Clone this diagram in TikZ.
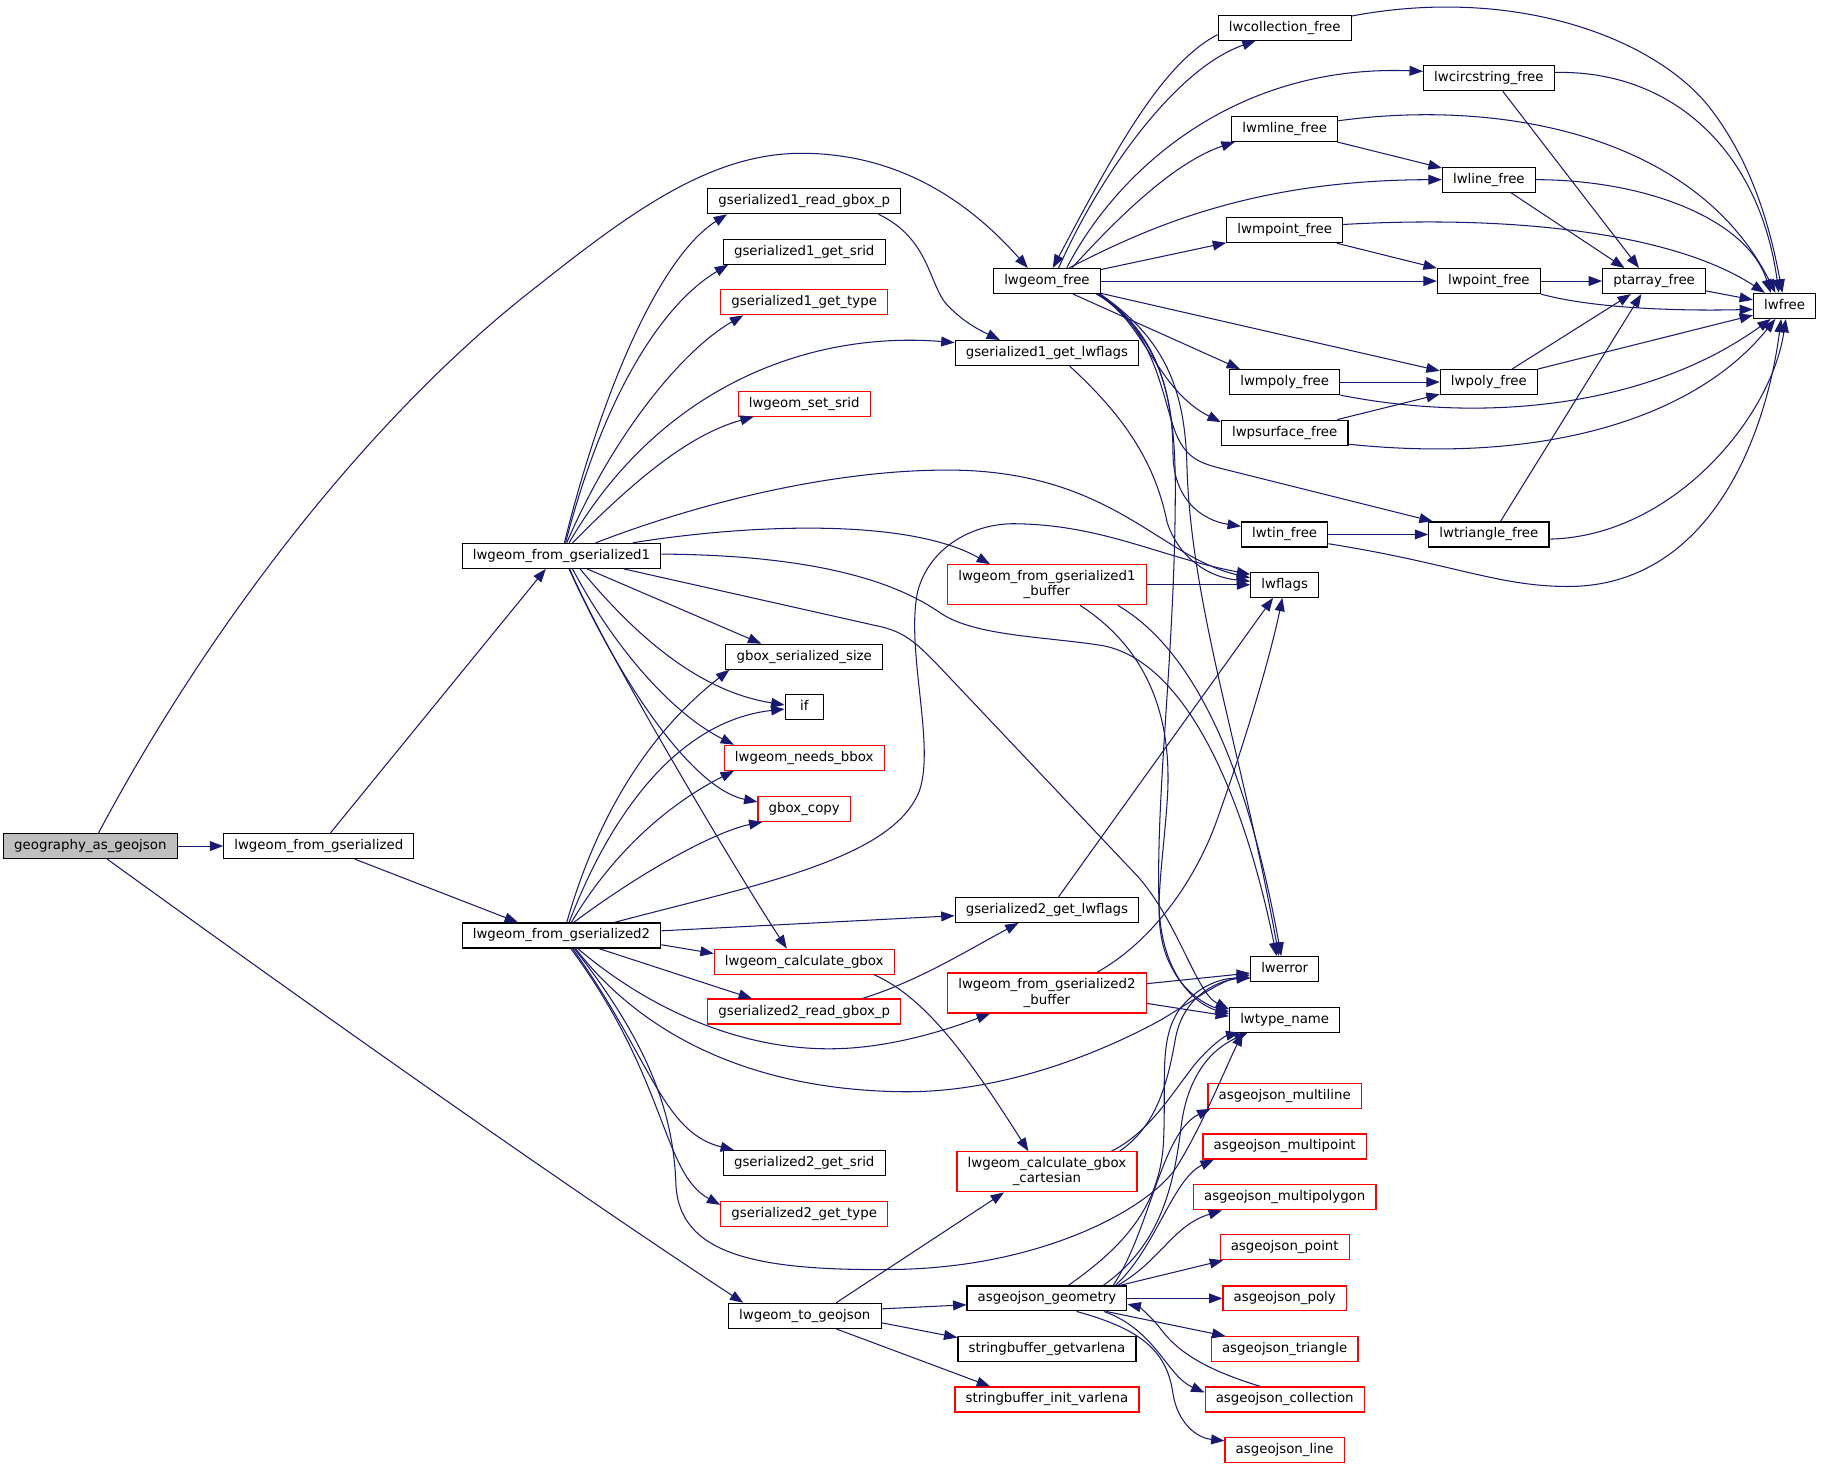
\documentclass[tikz,border=0pt]{standalone}
\usepackage{fontspec}
\setmainfont{DejaVu Sans}
\usetikzlibrary{arrows.meta}
\definecolor{edgec}{HTML}{191970}
\definecolor{nodegray}{HTML}{BFBFBF}
\newcommand{\dxfont}{\fontsize{11.48pt}{13.2pt}\selectfont}
\begin{document}
\begin{tikzpicture}[x=1pt,y=-1pt,
 nb/.style={draw=black, line width=1pt, rectangle, inner xsep=9.2pt, inner ysep=0pt, minimum height=21.5pt, text height=8.6pt, text depth=2.6pt, font=\dxfont},
 nr/.style={nb, draw=red},
 n2/.style={draw=red, line width=1pt, rectangle, inner xsep=9.2pt, inner ysep=0pt, minimum height=34.5pt, align=center, font=\dxfont},
 e/.style={draw=edgec, line width=0.9pt, -{Triangle[length=11.5pt,width=8.5pt]}}]
\path[fill=white] (0,0) rectangle (1568,1265);
\useasboundingbox (0,0) rectangle (1568,1265);
% column 1-3
\node[nb, fill=nodegray] (ga) at (77.8,728.5) {geography\_as\_geojson};
\node[nb] (lfg) at (274.5,728.5) {lwgeom\_from\_gserialized};
\node[nb] (g1) at (483.5,478.6) {lwgeom\_from\_gserialized1};
\node[nb] (g2) at (483.5,805.5) {lwgeom\_from\_gserialized2};
% column 4
\node[nb] (rb1) at (692.5,173.3) {gserialized1\_read\_gbox\_p};
\node[nb] (gs1srid) at (692.5,216.7) {gserialized1\_get\_srid};
\node[nr] (gs1type) at (692.5,260.3) {gserialized1\_get\_type};
\node[nr] (setsrid) at (692.5,347.6) {lwgeom\_set\_srid};
\node[nb] (gss) at (692.5,565.5) {gbox\_serialized\_size};
\node[nb, minimum width=33pt] (if) at (692.5,609) {if};
\node[nr] (nbbox) at (692.5,652.5) {lwgeom\_needs\_bbox};
\node[nr] (gcopy) at (692.5,696.5) {gbox\_copy};
\node[nr] (cgbox) at (692.5,828) {lwgeom\_calculate\_gbox};
\node[nr] (rb2) at (692.5,871) {gserialized2\_read\_gbox\_p};
\node[nb] (gs2srid) at (692.5,1001.5) {gserialized2\_get\_srid};
\node[nr] (gs2type) at (692.5,1045.5) {gserialized2\_get\_type};
\node[nb] (togj) at (693,1133) {lwgeom\_to\_geojson};
% column 5
\node[nb] (free) at (901.5,242) {lwgeom\_free};
\node[nb] (lf1) at (901.5,304) {gserialized1\_get\_lwflags};
\node[n2] (buf1) at (901.5,503.5) {lwgeom\_from\_gserialized1\\\_buffer};
\node[nb] (lf2) at (901.5,783.5) {gserialized2\_get\_lwflags};
\node[n2] (buf2) at (901.5,855) {lwgeom\_from\_gserialized2\\\_buffer};
\node[n2] (cart) at (901.5,1009) {lwgeom\_calculate\_gbox\\\_cartesian};
\node[nb] (geom) at (901.5,1118) {asgeojson\_geometry};
\node[nb] (sbget) at (901.5,1161.7) {stringbuffer\_getvarlena};
\node[nr] (sbinit) at (901.5,1205) {stringbuffer\_init\_varlena};
% column 6
\node[nb] (lwcoll) at (1106.2,23.8) {lwcollection\_free};
\node[nb] (lwmline) at (1106.2,111) {lwmline\_free};
\node[nb] (lwmpoint) at (1106.2,198.3) {lwmpoint\_free};
\node[nb] (lwmpoly) at (1106.2,329) {lwmpoly\_free};
\node[nb] (lwpsurface) at (1106.2,372.5) {lwpsurface\_free};
\node[nb] (lwtin) at (1106.2,460.2) {lwtin\_free};
\node[nb] (lwflags) at (1106.2,503.5) {lwflags};
\node[nb] (lwerror) at (1106.2,834.4) {lwerror};
\node[nb] (lwtype) at (1106.2,878) {lwtype\_name};
\node[nr] (multiline) at (1106.2,943.5) {asgeojson\_multiline};
\node[nr] (multipoint) at (1106.2,987.2) {asgeojson\_multipoint};
\node[nr] (multipolygon) at (1106.2,1031) {asgeojson\_multipolygon};
\node[nr] (point) at (1106.2,1074) {asgeojson\_point};
\node[nr] (poly) at (1106.2,1118) {asgeojson\_poly};
\node[nr] (triangle) at (1106.2,1161.7) {asgeojson\_triangle};
\node[nr] (collection) at (1106.2,1205) {asgeojson\_collection};
\node[nr] (line) at (1106.2,1248.6) {asgeojson\_line};
% column 7-9
\node[nb] (lwcirc) at (1282,67.4) {lwcircstring\_free};
\node[nb] (lwline) at (1282,154.7) {lwline\_free};
\node[nb] (lwpoint) at (1282,242) {lwpoint\_free};
\node[nb] (lwpoly) at (1282,329) {lwpoly\_free};
\node[nb] (lwtriangle) at (1282,460.2) {lwtriangle\_free};
\node[nb] (ptarray) at (1424.3,242) {ptarray\_free};
\node[nb] (lwfree) at (1536.7,263.4) {lwfree};

% ---- edges from the root
\draw[e] (ga) -- (lfg);
\draw[e] ([xshift=7pt]ga.north) .. controls (190,520) and (330,350) .. (458,250) .. controls (540,185) and (610,132) .. (690,132) .. controls (780,132) and (840,180) .. ([xshift=-16.5pt]free.north);
\draw[e] ([xshift=14.5pt]ga.south) .. controls (300,890) and (500,1030) .. ([xshift=-53pt]togj.north);
\draw[e] ([xshift=10pt]lfg.north) -- ([xshift=-13.5pt]g1.south);
\draw[e] ([xshift=31pt]lfg.south) -- ([xshift=-37.5pt]g2.north);

% ---- lwgeom_from_gserialized1
\draw[e] ([xshift=2.5pt]g1.north) .. controls (520,330) and (570,220) .. ([xshift=-66.5pt]rb1.south);
\draw[e] ([xshift=3.5pt]g1.north) .. controls (520,340) and (570,262) .. ([xshift=-65.5pt]gs1srid.south);
\draw[e] ([xshift=4.5pt]g1.north) .. controls (530,370) and (590,300) .. ([xshift=-52.5pt]gs1type.south);
\draw[e] ([xshift=6.5pt]g1.north) .. controls (570,330) and (700,285) .. ([yshift=9pt]lf1.west);
\draw[e] ([xshift=9.5pt]g1.north) .. controls (540,420) and (590,375) .. ([xshift=-43.5pt]setsrid.south);
\draw[e] ([xshift=29.5pt]g1.north) .. controls (610,430) and (730,402) .. (830,405) .. controls (960,410) and (1000,480) .. ([yshift=6pt]lwflags.west);
\draw[e] ([xshift=61.5pt]g1.north) .. controls (640,452) and (780,445) .. ([xshift=-49pt]buf1.north);
\draw[e] ([yshift=1.5pt]g1.east) .. controls (700,478) and (770,500) .. (810,528) .. controls (840,548) and (900,548) .. (950,556) .. controls (1020,570) and (1070,680) .. ([xshift=-7pt]lwerror.north);
\draw[e] ([xshift=53.5pt]g1.south) -- (760,540) .. controls (780,545) and (790,555) .. (805,570) -- (980,755) .. controls (1015,795) and (1030,855) .. ([yshift=9pt]lwtype.west);
\draw[e] ([xshift=22pt]g1.south) -- ([xshift=-37pt]gss.north);
\draw[e] ([xshift=16pt]g1.south) .. controls (545,545) and (600,595) .. ([yshift=2pt]if.west);
\draw[e] ([xshift=9.5pt]g1.south) .. controls (530,560) and (580,615) .. ([xshift=-60.5pt]nbbox.north);
\draw[e] ([xshift=6.5pt]g1.south) .. controls (540,600) and (600,680) .. ([yshift=6pt]gcopy.west);
\draw[e] ([xshift=7pt]g1.south) .. controls (520,560) and (640,760) .. ([xshift=-15pt]cgbox.north);

% ---- lwgeom_from_gserialized2
\draw[e] ([xshift=4.5pt]g2.north) .. controls (515,700) and (560,630) .. ([xshift=-64.5pt]gss.south);
\draw[e] ([xshift=6.5pt]g2.north) .. controls (530,690) and (590,620) .. ([yshift=-1.5pt]if.west);
\draw[e] ([xshift=8.5pt]g2.north) .. controls (530,730) and (580,690) .. ([xshift=-60.5pt]nbbox.south);
\draw[e] ([xshift=10.5pt]g2.north) .. controls (560,745) and (620,715) .. ([xshift=-36pt]gcopy.south);
\draw[e] ([xshift=45.5pt]g2.north) .. controls (650,762) and (770,740) .. (792,680) .. controls (805,640) and (780,560) .. (790,510) .. controls (800,470) and (840,450) .. (875,451) .. controls (950,452) and (1000,480) .. ([yshift=9pt]lwflags.west);
\draw[e] ([yshift=4pt]g2.east) -- ([yshift=-5pt]lf2.west);
\draw[e] ([yshift=-8pt]g2.east) -- ([yshift=7pt]cgbox.west);
\draw[e] ([xshift=32pt]g2.south) -- ([xshift=-45pt]rb2.north);
\draw[e] ([xshift=14pt]g2.south) .. controls (560,870) and (640,905) .. (720,903) .. controls (770,902) and (820,885) .. ([xshift=-49pt]buf2.south);
\draw[e] ([xshift=12pt]g2.south) .. controls (560,900) and (660,938) .. (774,940) .. controls (870,942) and (960,900) .. (1000,878) .. controls (1030,860) and (1050,845) .. ([yshift=-5pt]lwerror.west);
\draw[e] ([xshift=11pt]g2.south) .. controls (560,900) and (580,960) .. (582,1020) .. controls (585,1080) and (650,1095) .. (775,1093) .. controls (900,1090) and (990,1040) .. (1013,1005) .. controls (1035,970) and (1055,920) .. ([xshift=-36pt]lwtype.south);
\draw[e] ([xshift=9.5pt]g2.south) .. controls (560,910) and (570,975) .. ([xshift=-60.5pt]gs2srid.north);
\draw[e] ([xshift=8pt]g2.south) .. controls (575,930) and (570,1010) .. ([yshift=8pt]gs2type.west);

% ---- middle column helpers
\draw[e] ([xshift=64pt]rb1.south) .. controls (800,205) and (800,245) .. (815,262) .. controls (830,278) and (845,285) .. ([xshift=-40.5pt]lf1.north);
\draw[e] ([xshift=19.5pt]lf1.south) .. controls (970,360) and (995,400) .. (1005,450) .. controls (1015,480) and (1040,497) .. ([yshift=3pt]lwflags.west);
\draw[e] ([xshift=10pt]lf2.north) -- ([xshift=-10pt]lwflags.south);
\draw[e] ([xshift=50pt]rb2.north) .. controls (790,845) and (830,820) .. ([xshift=-24.5pt]lf2.south);
\draw[e] (buf1.east) -- (lwflags.west);
\draw[e] ([xshift=61pt]buf1.south) .. controls (1020,555) and (1070,640) .. ([xshift=-3pt]lwerror.north);
\draw[e] ([xshift=28.5pt]buf1.south) .. controls (990,560) and (1010,620) .. (1005,690) .. controls (1000,760) and (990,800) .. (1010,835) .. controls (1020,855) and (1040,866) .. ([yshift=7pt]lwtype.west);
\draw[e] ([xshift=43pt]buf2.north) .. controls (990,812) and (1030,760) .. (1050,700) .. controls (1075,630) and (1095,560) .. ([xshift=-2pt]lwflags.south);
\draw[e] ([yshift=8pt]buf2.east) -- ([yshift=-3.5pt]lwerror.west);
\draw[e] ([yshift=-9pt]buf2.east) -- ([yshift=3pt]lwtype.west);
\draw[e] ([xshift=60pt]cgbox.south) .. controls (800,860) and (840,920) .. ([xshift=-16pt]cart.north);
\draw[e] ([xshift=27pt]togj.north) -- ([xshift=-37pt]cart.south);
\draw[e] ([yshift=6pt]togj.east) -- ([yshift=-5.5pt]geom.west);
\draw[e] ([yshift=-6pt]togj.east) -- ([yshift=10pt]sbget.west);
\draw[e] ([xshift=27pt]togj.south) -- ([xshift=-49pt]sbinit.north);
\draw[e] ([xshift=62.5pt]cart.north) .. controls (995,970) and (1005,935) .. (1012,895) .. controls (1018,860) and (1045,845) .. ([yshift=-7pt]lwerror.west);
\draw[e] ([xshift=55.5pt]cart.north) .. controls (990,975) and (1010,940) .. (1030,915) .. controls (1045,898) and (1055,892) .. ([xshift=-39pt]lwtype.south);

% ---- asgeojson_geometry
\draw[e] ([xshift=57pt]geom.north) .. controls (990,1060) and (1000,975) .. ([xshift=-64pt]multiline.south);
\draw[e] ([xshift=59pt]geom.north) .. controls (995,1075) and (1010,1015) .. ([xshift=-61pt]multipoint.south);
\draw[e] ([xshift=61pt]geom.north) .. controls (1000,1085) and (1010,1055) .. ([xshift=-54pt]multipolygon.south);
\draw[e] ([xshift=63pt]geom.north) -- ([xshift=-53pt]point.south);
\draw[e] (geom.east) -- (poly.west);
\draw[e] ([xshift=51pt]geom.south) -- ([xshift=-51pt]triangle.north);
\draw[e] ([xshift=49pt]geom.south) .. controls (995,1145) and (1005,1185) .. ([yshift=6pt]collection.west);
\draw[e] ([xshift=-21pt]collection.north) .. controls (1040,1180) and (1015,1165) .. (1000,1145) .. controls (990,1132) and (980,1125) .. ([yshift=-5pt]geom.east);
\draw[e] ([xshift=25.5pt]geom.south) .. controls (985,1145) and (1005,1165) .. (1010,1200) .. controls (1014,1225) and (1030,1238) .. ([yshift=8pt]line.west);
\draw[e] ([xshift=18.5pt]geom.north) .. controls (965,1075) and (1000,1040) .. (1002,980) .. controls (1004,930) and (998,895) .. (1015,870) .. controls (1030,850) and (1050,842) .. ([yshift=-8pt]lwerror.west);
\draw[e] ([xshift=48.5pt]geom.north) .. controls (995,1075) and (1010,1030) .. (1017,970) .. controls (1022,930) and (1040,905) .. ([xshift=-32pt]lwtype.south);

% ---- lwgeom_free
\draw[e] ([xshift=10pt]free.north) .. controls (945,155) and (1010,60) .. ([xshift=-25pt]lwcoll.south);
\draw[e] ([yshift=-6pt]lwcoll.west) .. controls (1000,55) and (960,130) .. ([xshift=5pt]free.north);
\draw[e] ([xshift=17pt]free.north) .. controls (960,150) and (1060,55) .. ([yshift=6pt]lwcirc.west);
\draw[e] ([xshift=21.5pt]free.north) .. controls (960,190) and (1010,140) .. ([xshift=-43pt]lwmline.south);
\draw[e] ([xshift=19pt]free.north) .. controls (990,195) and (1080,155) .. (lwline.west);
\draw[e] (free) -- (lwmpoint);
\draw[e] (free) -- (lwpoint);
\draw[e] (free) -- (lwpoly);
\draw[e] ([xshift=22.5pt]free.south) -- ([xshift=-38.5pt]lwmpoly.north);
\draw[e] ([xshift=42.5pt]free.south) .. controls (985,275) and (995,335) .. ([yshift=9pt]lwpsurface.west);
\draw[e] ([xshift=44pt]free.south) .. controls (990,280) and (1010,330) .. (1010,390) .. controls (1010,430) and (1035,448) .. ([yshift=7pt]lwtin.west);
\draw[e] ([xshift=45pt]free.south) .. controls (995,285) and (1000,340) .. (1012,372) .. controls (1020,392) and (1030,398) .. (1050,403) -- ([xshift=4pt]lwtriangle.north west);
\draw[e] ([xshift=46pt]free.south) .. controls (1000,290) and (1020,330) .. (1022,400) .. controls (1025,520) and (1070,650) .. ([xshift=-5pt]lwerror.north);
\draw[e] ([xshift=44.5pt]free.south) .. controls (995,290) and (1012,330) .. (1012,420) .. controls (1012,560) and (995,680) .. (998,780) .. controls (1000,840) and (1030,865) .. ([yshift=5pt]lwtype.west);

% ---- the freeing functions
\draw[e] ([yshift=10pt]lwcoll.east) .. controls (1300,-12) and (1420,30) .. (1470,90) .. controls (1510,140) and (1525,200) .. ([xshift=-2pt]lwfree.north);
\draw[e] ([yshift=5pt]lwcirc.east) .. controls (1440,60) and (1515,130) .. ([xshift=-5pt]lwfree.north);
\draw[e] ([xshift=12pt]lwcirc.south) -- ([xshift=-13pt]ptarray.north);
\draw[e] (lwmline) -- (lwline);
\draw[e] ([yshift=7pt]lwmline.east) .. controls (1290,85) and (1460,115) .. ([xshift=-8pt]lwfree.north);
\draw[e] ([xshift=19pt]lwline.south) -- ([xshift=-25.5pt]ptarray.north);
\draw[e] (lwline.east) .. controls (1420,155) and (1505,190) .. ([xshift=-12pt]lwfree.north);
\draw[e] (lwmpoint) -- (lwpoint);
\draw[e] ([yshift=5pt]lwmpoint.east) .. controls (1300,185) and (1440,200) .. ([xshift=-17pt]lwfree.north);
\draw[e] (lwpoint) -- (ptarray);
\draw[e] (lwpoint.south east) .. controls (1370,265) and (1440,268) .. ([yshift=-3pt]lwfree.west);
\draw[e] (ptarray) -- (lwfree);
\draw[e] (lwmpoly) -- (lwpoly);
\draw[e] (lwmpoly.south east) .. controls (1280,365) and (1420,350) .. ([xshift=-12pt]lwfree.south);
\draw[e] ([xshift=20pt]lwpoly.north) -- ([xshift=-20pt]ptarray.south);
\draw[e] (lwpoly.north east) -- ([yshift=-8pt]lwfree.west);
\draw[e] (lwpsurface) -- (lwpoly);
\draw[e] ([yshift=-10pt]lwpsurface.east) .. controls (1330,400) and (1460,360) .. ([xshift=-8pt]lwfree.south);
\draw[e] (lwtin) -- (lwtriangle);
\draw[e] ([yshift=-8pt]lwtin.east) .. controls (1250,485) and (1290,505) .. (1350,505) .. controls (1470,505) and (1520,380) .. ([xshift=-3pt]lwfree.south);
\draw[e] ([xshift=10pt]lwtriangle.north) -- ([xshift=-11pt]ptarray.south);
\draw[e] ([yshift=-4pt]lwtriangle.east) .. controls (1440,462) and (1525,360) .. ([xshift=1pt]lwfree.south);
\end{tikzpicture}
\end{document}
